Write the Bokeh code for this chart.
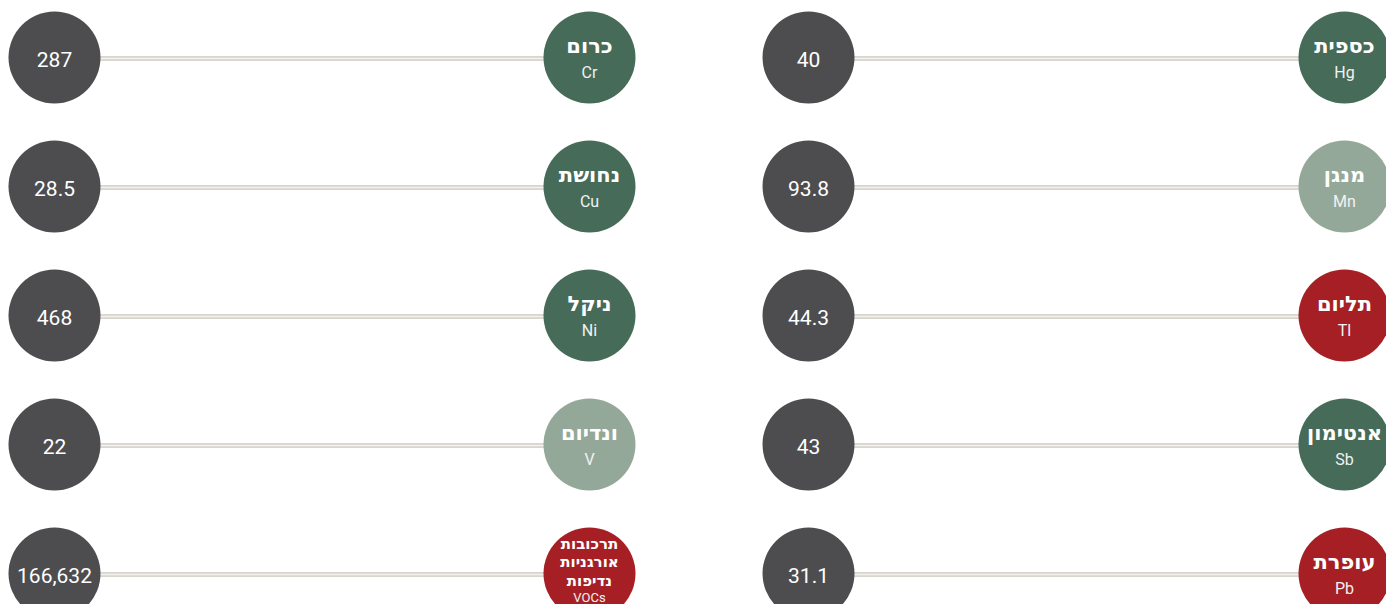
from bokeh.plotting import figure
from bokeh.models import Range1d
from bokeh.core.properties import value
from bokeh.embed import file_html
from bokeh.resources import INLINE

# ---- data ----
left_names = ["כרום", "נחושת", "ניקל", "ונדיום", "תרכובות\nאורגניות\nנדיפות"]
left_symbols = ["Cr", "Cu", "Ni", "V", "VOCs"]
left_values = ["287", "28.5", "468", "22", "166,632"]
left_level = ["high", "high", "high", "low", "critical"]

right_names = ["כספית", "מנגן", "תליום", "אנטימון", "עופרת"]
right_symbols = ["Hg", "Mn", "Tl", "Sb", "Pb"]
right_values = ["40", "93.8", "44.3", "43", "31.1"]
right_level = ["high", "low", "critical", "high", "critical"]

LEVEL_COLOR = {"high": "#466b58", "low": "#94a89a", "critical": "#a51f24"}
DARK = "#4d4d4f"

W, H = 1386, 604
p = figure(width=W, height=H, output_backend="svg", toolbar_location=None,
           x_range=Range1d(0, W), y_range=Range1d(H, 0),
           min_border=0, outline_line_color=None, background_fill_color="white",
           border_fill_color="white")
p.axis.visible = False
p.grid.visible = False

R = 46
ROW0, ROWSTEP = 57, 129
columns = [
    (left_names, left_symbols, left_values, left_level, 54, 589),
    (right_names, right_symbols, right_values, right_level, 808, 1344),
]

for names, symbols, values, levels, xv, xc in columns:
    n = len(names)
    ys = [ROW0 + i * ROWSTEP for i in range(n)]
    # connecting lines
    p.segment(x0=[xv + R - 2] * n, y0=[y + 1 for y in ys], x1=[xc - R + 2] * n, y1=[y + 1 for y in ys],
              line_color="#d8d5cf", line_width=5)
    p.segment(x0=[xv + R - 2] * n, y0=[y + 1 for y in ys], x1=[xc - R + 2] * n, y1=[y + 1 for y in ys],
              line_color="#f3f1ee", line_width=1.5)
    # value circles
    p.circle(x=[xv] * n, y=ys, radius=R, fill_color=DARK, line_color=None)
    p.text(x=[xv] * n, y=[y + 2 for y in ys], text=values, text_color="white",
           text_font=value("Roboto"), text_font_size="21px", text_font_style="normal",
           text_align="center", text_baseline="middle")
    # element circles
    p.circle(x=[xc] * n, y=ys, radius=R, fill_color=[LEVEL_COLOR[l] for l in levels], line_color=None)
    single = [i for i in range(n) if "\n" not in names[i]]
    multi = [i for i in range(n) if "\n" in names[i]]
    if single:
        p.text(x=[xc] * len(single), y=[ys[i] - 12 for i in single], text=[names[i] for i in single],
               text_color="white", text_font=value("DejaVu Sans"), text_font_size="21px",
               text_font_style="bold", text_align="center", text_baseline="middle")
        p.text(x=[xc] * len(single), y=[ys[i] + 15 for i in single], text=[symbols[i] for i in single],
               text_color="#f2f2f2", text_font=value("Roboto"), text_font_size="16px",
               text_align="center", text_baseline="middle")
    if multi:
        p.text(x=[xc] * len(multi), y=[ys[i] - 11 for i in multi], text=[names[i] for i in multi],
               text_color="white", text_font=value("DejaVu Sans"), text_font_size="15px",
               text_font_style="bold", text_align="center", text_baseline="middle",
               text_line_height=1.05)
        p.text(x=[xc] * len(multi), y=[ys[i] + 24 for i in multi], text=[symbols[i] for i in multi],
               text_color="#f2f2f2", text_font=value("Roboto"), text_font_size="13px",
               text_align="center", text_baseline="middle")

open("out.html", "w").write(file_html(p, INLINE))
